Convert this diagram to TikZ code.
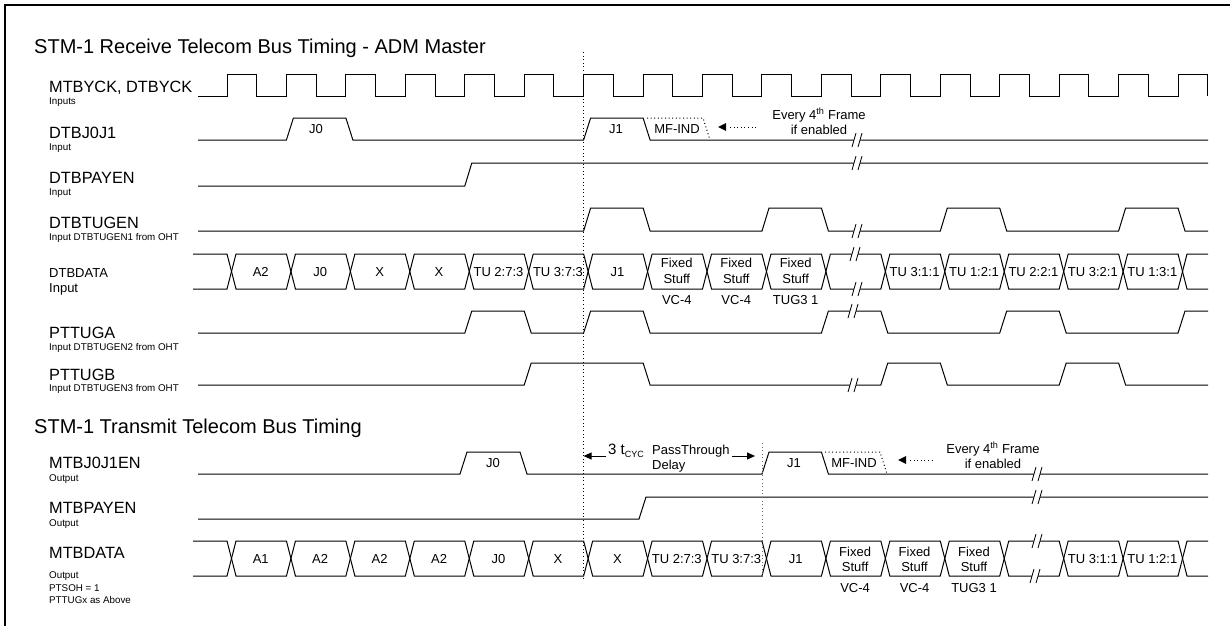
\documentclass[tikz,border=0pt]{standalone}
\usepackage{fontspec}
\setmainfont{Liberation Sans}
\usetikzlibrary{arrows.meta}
\tikzset{
 sig/.style={line width=1pt, line join=miter},
 ttl/.style={anchor=base west, inner sep=0, font=\fontsize{20}{22}\selectfont},
 big/.style={anchor=base west, inner sep=0, font=\fontsize{16.3}{18}\selectfont},
 sml/.style={anchor=base west, inner sep=0, font=\fontsize{9.8}{11}\selectfont},
 mid/.style={anchor=base west, inner sep=0, font=\fontsize{13}{15}\selectfont},
 cell/.style={anchor=base, inner sep=0, font=\fontsize{13}{15}\selectfont},
 dots/.style={line width=1pt, dash pattern=on 1pt off 2.6pt},
 tip/.style={-{Triangle[length=8pt,width=7pt]}},
}
\newcommand{\tdbrk}[2]{%
  \fill[white] ({#1-5},{#2+7}) -- ({#1-1},{#2-7}) -- ({#1+5},{#2-7}) -- ({#1+1},{#2+7}) -- cycle;
  \draw[line width=0.8pt] ({#1-5},{#2+7}) -- ({#1-1},{#2-7}) ({#1+1},{#2+7}) -- ({#1+5},{#2-7});
}
\newcommand{\tdbus}[2]{%
  \pgfmathsetmacro{\ym}{(#1+#2)/2}
  \draw[sig] (193,#1) -- (227,#1) -- (231.5,\ym) -- (227,#2) -- (193,#2);
  \foreach \k in {0,...,15}{
    \pgfmathsetmacro{\xa}{227+59.44*\k}
    \pgfmathsetmacro{\xb}{227+59.44*(\k+1)}
    \draw[sig] ({\xa+4.5},\ym) -- ({\xa+9},#1) -- (\xb,#1) -- ({\xb+4.5},\ym) -- (\xb,#2) -- ({\xa+9},#2) -- cycle;
  }
  \draw[sig] (1208,#1) -- (1187,#1) -- (1182.5,\ym) -- (1187,#2) -- (1208,#2);
}
\begin{document}
\begin{tikzpicture}[x=1pt,y=-1pt]
\useasboundingbox (0,0) rectangle (1230,626);
% frame
\draw[line width=2pt] (5,626) -- (5,5) -- (1230,5);

% ---------- titles and labels ----------
\node[ttl] (t1) at (34,53) {STM-1 Receive Telecom Bus Timing - ADM Master};
\node[big] (l1) at (49,92) {MTBYCK, DTBYCK};
\node[sml] (s1) at (49,104) {Inputs};
\node[big] (l2) at (49,138) {DTBJ0J1};
\node[sml] (s2) at (49,150) {Input};
\node[big] (l3) at (49,183) {DTBPAYEN};
\node[sml] (s3) at (49,195) {Input};
\node[big] (l4) at (49,228) {DTBTUGEN};
\node[sml] (s4) at (49,240) {Input DTBTUGEN1 from OHT};
\node[mid] (l5) at (49,277) {DTBDATA};
\node[mid] (s5) at (49,292) {Input};
\node[big] (l6) at (49,338) {PTTUGA};
\node[sml] (s6) at (49,350) {Input DTBTUGEN2 from OHT};
\node[big] (l7) at (49,380) {PTTUGB};
\node[sml] (s7) at (49,391) {Input DTBTUGEN3 from OHT};
\node[ttl] (t2) at (34,433) {STM-1 Transmit Telecom Bus Timing};
\node[big] (l8) at (49,468) {MTBJ0J1EN};
\node[sml] (s8) at (49,481) {Output};
\node[big] (l9) at (49,513) {MTBPAYEN};
\node[sml] (s9) at (49,526) {Output};
\node[big] (l10) at (49,558) {MTBDATA};
\node[sml] (s10a) at (49,578) {Output};
\node[sml] (s10b) at (49,591) {PTSOH = 1};
\node[sml] (s10c) at (49,603) {PTTUGx as Above};

% ---------- clock ----------
\draw[sig] (198,96) \foreach \k in {0,...,16}{ -- ({227+59.44*\k},96) -- ({227+59.44*\k},74) -- ({256.72+59.44*\k},74) -- ({256.72+59.44*\k},96) };

% ---------- DTBJ0J1 ----------
\draw[sig] (198,140) -- (286.4,140) -- (293.4,118) -- (345.9,118) -- (352.9,140) -- (583.6,140) -- (590.6,118) -- (643.1,118) -- (650.1,140) -- (1208,140);
\draw[dots] (647,118) -- (703,118) -- (710,140);
\node[cell] (p1) at (316,133.7) {J0};
\node[cell] (p2) at (616,133.7) {J1};
\node[cell] (p3) at (677,133.7) {MF-IND};
\fill (718,127) -- (726,123) -- (726,131) -- cycle;
\draw[dots] (730,127) -- (757,127);
\node[cell] (e1) at (819,119) {Every 4\textsuperscript{th} Frame};
\node[cell] (e2) at (819,134) {if enabled};

% ---------- DTBPAYEN ----------
\draw[sig] (198,186) -- (464.8,186) -- (471.8,163) -- (1208,163);

% ---------- DTBTUGEN ----------
\draw[sig] (198,231) -- (583.6,231) -- (590.6,208) -- (643.1,208) -- (650.1,231) -- (762,231) -- (769,208) -- (821.4,208) -- (828.4,231) -- (940.3,231) -- (947.3,208) -- (999.7,208) -- (1006.7,231) -- (1118.6,231) -- (1125.6,208) -- (1178,208) -- (1185,231) -- (1208,231);

% ---------- DTBDATA ----------
\tdbus{254}{289}
\foreach \k/\t in {0/A2,1/J0,2/X,3/X,4/TU 2:7:3,5/TU 3:7:3,6/J1,11/TU 3:1:1,12/TU 1:2:1,13/TU 2:2:1,14/TU 3:2:1,15/TU 1:3:1}{
  \node[cell] at ({260.72+59.44*\k},276.2) {\t};
}
\foreach \k/\t in {7/VC-4,8/VC-4,9/TUG3 1}{
  \node[cell] at ({260.72+59.44*\k},267) {Fixed};
  \node[cell] at ({260.72+59.44*\k},283) {Stuff};
  \node[cell] at ({260.72+59.44*\k},304) {\t};
}

% ---------- PTTUGA ----------
\draw[sig] (198,333) -- (464.8,333) -- (471.8,311) -- (524.2,311) -- (531.2,333) -- (583.6,333) -- (590.6,311) -- (643.1,311) -- (650.1,333) -- (821.4,333) -- (828.4,311) -- (880.8,311) -- (887.8,333) -- (999.7,333) -- (1006.7,311) -- (1059.2,311) -- (1066.2,333) -- (1178,333) -- (1185,311) -- (1208,311);

% ---------- PTTUGB ----------
\draw[sig] (198,385) -- (524.2,385) -- (531.2,363) -- (643.1,363) -- (650.1,385) -- (880.8,385) -- (887.8,363) -- (940.3,363) -- (947.3,385) -- (1059.2,385) -- (1066.2,363) -- (1118.6,363) -- (1125.6,385) -- (1208,385);

% ---------- MTBJ0J1EN ----------
\draw[sig] (198,474) -- (460,474) -- (467,452) -- (520,452) -- (527,474) -- (762,474) -- (769,452) -- (821.4,452) -- (828.4,474) -- (1208,474);
\draw[dots] (825,452) -- (880,452) -- (887,474);
\node[cell] (q1) at (493,467.7) {J0};
\node[cell] (q2) at (794,467.7) {J1};
\node[cell] (q3) at (854,467.7) {MF-IND};
\fill (898,460) -- (906,456) -- (906,464) -- cycle;
\draw[dots] (910,460) -- (935,460);
\node[cell] (e3) at (993,453) {Every 4\textsuperscript{th} Frame};
\node[cell] (e4) at (993,468) {if enabled};

% ---------- MTBPAYEN ----------
\draw[sig] (198,519) -- (639,519) -- (646,497) -- (1208,497);

% ---------- MTBDATA ----------
\tdbus{541}{576}
\foreach \k/\t in {0/A1,1/A2,2/A2,3/A2,4/J0,5/X,6/X,7/TU 2:7:3,8/TU 3:7:3,9/J1,14/TU 3:1:1,15/TU 1:2:1}{
  \node[cell] at ({260.72+59.44*\k},563.2) {\t};
}
\foreach \k/\t in {10/VC-4,11/VC-4,12/TUG3 1}{
  \node[cell] at ({260.72+59.44*\k},556) {Fixed};
  \node[cell] at ({260.72+59.44*\k},571) {Stuff};
  \node[cell] at ({260.72+59.44*\k},592) {\t};
}

% ---------- delay annotation ----------
\draw[sig,tip] (606,456) -- (583.6,456);
\draw[sig,tip] (732,456) -- (755,456);
\node[anchor=base west, inner sep=0] (d1) at (608,454) {\fontsize{15}{15}\selectfont 3 t\raisebox{-3pt}{\fontsize{9}{9}\selectfont CYC}};
\node[mid] (d2) at (652,454) {PassThrough};
\node[mid] (d3) at (652,469) {Delay};

% ---------- dotted reference lines ----------
\draw[dots] (583.6,52) -- (583.6,578);
\draw[dots, black!60] (762,443) -- (762,578);

% ---------- break marks ----------
\tdbrk{857}{140}
\tdbrk{857}{163}
\tdbrk{857}{231}
\tdbrk{855}{254}
\tdbrk{857}{289}
\tdbrk{853}{311}
\tdbrk{853}{385}
\tdbrk{1037}{474}
\tdbrk{1037}{497}
\tdbrk{1037}{541}
\tdbrk{1035}{576}
\end{tikzpicture}
\end{document}
